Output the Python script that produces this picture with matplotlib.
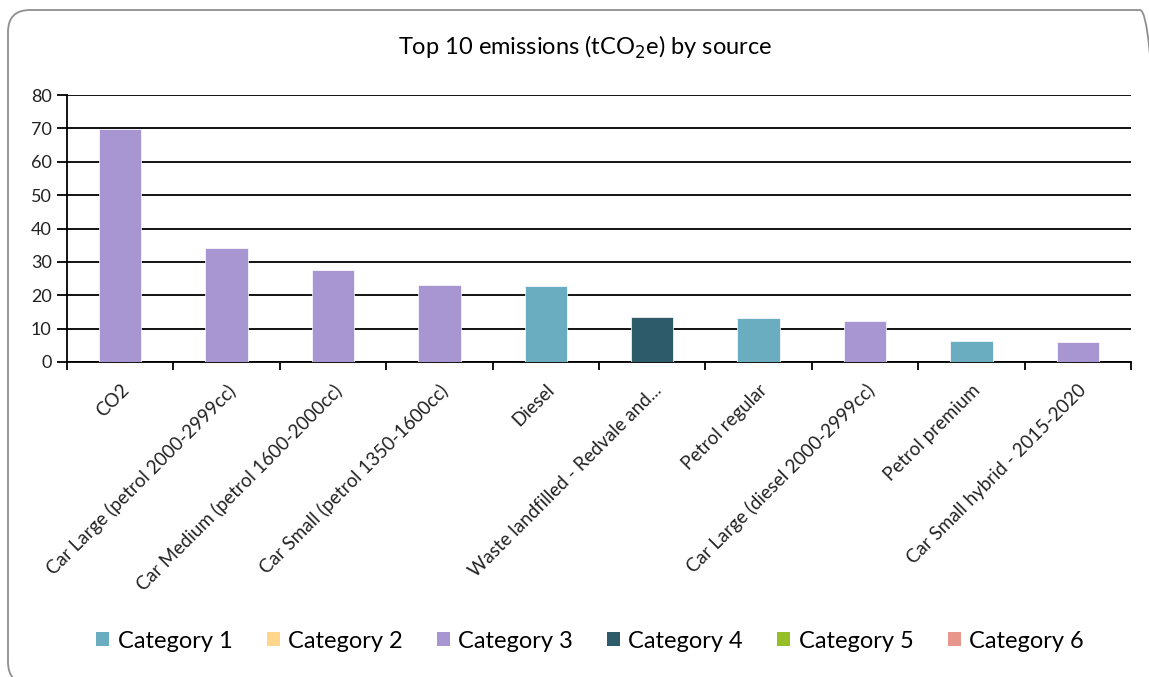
import matplotlib
matplotlib.use("Agg")
import matplotlib.pyplot as plt
from matplotlib.patches import FancyBboxPatch, Patch
from matplotlib.transforms import IdentityTransform

plt.rcParams['font.family'] = ['Lato', 'DejaVu Sans']

sources = ["CO2", "Car Large (petrol 2000-2999cc)", "Car Medium (petrol 1600-2000cc)",
           "Car Small (petrol 1350-1600cc)", "Diesel", "Waste landfilled - Redvale and...",
           "Petrol regular", "Car Large (diesel 2000-2999cc)", "Petrol premium",
           "Car Small hybrid - 2015-2020"]
values = [69.8, 34.2, 27.6, 23.1, 22.8, 13.5, 13.1, 12.2, 6.2, 6.0]
source_category = [3, 3, 3, 3, 1, 4, 1, 3, 1, 3]
legend_labels = ["Category 1", "Category 2", "Category 3", "Category 4", "Category 5", "Category 6"]
cat_colors = {1: "#6AADC0", 2: "#FFD68A", 3: "#A796D1", 4: "#2D5B69", 5: "#94BF27", 6: "#E8958A"}
y_ticks = [0, 10, 20, 30, 40, 50, 60, 70, 80]

W, H = 1149, 677
fig = plt.figure(figsize=(W / 100, H / 100), dpi=100)
fig.patch.set_facecolor("white")

# rounded border in pixel coordinates (extends past right/bottom edges like the reference)
bx0, by_top, bx1, by_bot = 8, 10, 1162, 684
border = FancyBboxPatch((bx0, H - by_bot), bx1 - bx0, by_bot - by_top,
                        boxstyle="round,pad=0,rounding_size=22", transform=IdentityTransform(),
                        facecolor="none", edgecolor="#8f8f8f", linewidth=1.3, zorder=-1)
fig.patches.append(border)

left, right, top, bottom = 67, 1131, 95, 362
ax = fig.add_axes([left / W, 1 - bottom / H, (right - left) / W, (bottom - top) / H])
ax.set_facecolor("none")

x = list(range(len(sources)))
colors = [cat_colors[c] for c in source_category]
ax.bar(x, values, width=0.4, color=colors, edgecolor="white", linewidth=0.5, zorder=3)

ax.set_xlim(-0.5, len(sources) - 0.5)
ax.set_ylim(0, 80)
ax.set_yticks(y_ticks)
ax.set_yticklabels([str(v) for v in y_ticks], fontsize=13, color="#222222")
ax.yaxis.grid(True, color="black", linewidth=1.3, zorder=1)
ax.set_axisbelow(True)
ax.tick_params(axis='y', length=7, width=1.3, color="black", pad=4)

ax.set_xticks([i - 0.5 for i in range(len(sources) + 1)], minor=False)
ax.set_xticklabels([])
ax.tick_params(axis='x', which='major', length=6, width=1.3, color="black")
ax.set_xticks(x, minor=True)
ax.set_xticklabels(sources, minor=True, rotation=45, ha='right', rotation_mode='anchor',
                   fontsize=13.5, color="#222222")
ax.tick_params(axis='x', which='minor', length=0, pad=14)

for s in ["top", "right"]:
    ax.spines[s].set_visible(False)
ax.spines["left"].set_linewidth(1.3)
ax.spines["bottom"].set_linewidth(1.3)

fig.text(585 / W, 1 - 47 / H, "Top 10 emissions (tCO$_2$e) by source", ha="center", va="center",
         fontsize=17, color="black")

handles = [Patch(facecolor=cat_colors[i + 1], edgecolor="none") for i in range(6)]
fig.legend(handles, legend_labels, loc="center", bbox_to_anchor=(590 / W, 1 - 641 / H),
           ncol=6, frameon=False, fontsize=17, handlelength=0.55, handleheight=0.55,
           handletextpad=0.35, columnspacing=1.45)

fig.savefig("out.png", dpi=100)
